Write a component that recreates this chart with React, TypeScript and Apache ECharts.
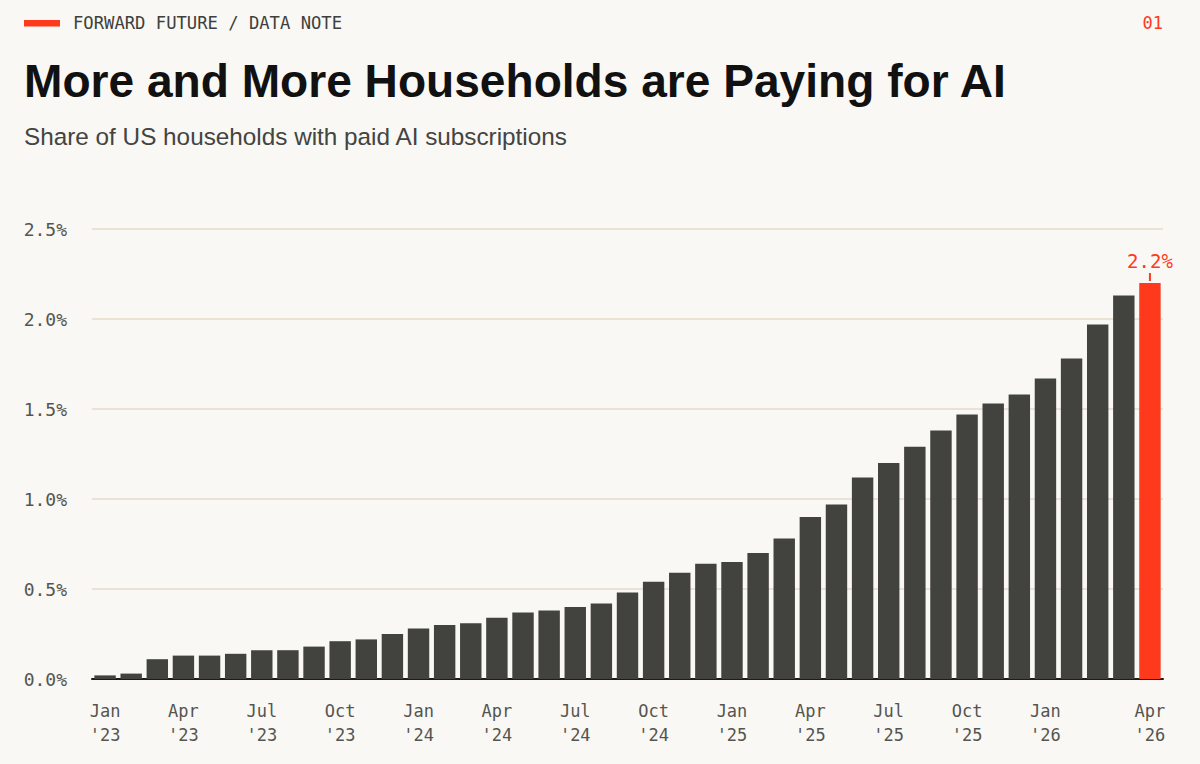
import React, { useEffect, useRef } from "react";
import * as echarts from "echarts";

const tickLabels: string[] = [
  "Jan\n'23", "", "", "Apr\n'23", "", "", "Jul\n'23", "", "", "Oct\n'23", "", "",
  "Jan\n'24", "", "", "Apr\n'24", "", "", "Jul\n'24", "", "", "Oct\n'24", "", "",
  "Jan\n'25", "", "", "Apr\n'25", "", "", "Jul\n'25", "", "", "Oct\n'25", "", "",
  "Jan\n'26", "", "", "", "Apr\n'26",
];

const values: number[] = [
  0.02, 0.03, 0.11, 0.13, 0.13, 0.14, 0.16, 0.16, 0.18, 0.21, 0.22, 0.25,
  0.28, 0.30, 0.31, 0.34, 0.37, 0.38, 0.40, 0.42, 0.48, 0.54, 0.59, 0.64,
  0.65, 0.70, 0.78, 0.90, 0.97, 1.12, 1.20, 1.29, 1.38, 1.47, 1.53, 1.58,
  1.67, 1.78, 1.97, 2.13, 2.20,
];

const yMin = 0;
const yMax = 2.5;
const yStep = 0.5;

const TITLE = "More and More Households are Paying for AI";
const SUBTITLE = "Share of US households with paid AI subscriptions";
const KICKER = "FORWARD FUTURE / DATA NOTE";
const PAGE_NO = "01";

const BG = "#f9f8f5";
const DARK = "#42423e";
const RED = "#ff3a1c";
const MONO = "'DejaVu Sans Mono', 'Liberation Mono', monospace";
const SANS = "'Liberation Sans', Arial, Helvetica, sans-serif";

export default function App() {
  const ref = useRef<HTMLDivElement>(null);

  useEffect(() => {
    if (!ref.current) return;
    const chart = echarts.init(ref.current, undefined, { renderer: "svg" });
    const lastIdx = values.length - 1;
    const seriesData = values.map((v, i) =>
      i === lastIdx
        ? {
            value: v,
            itemStyle: { color: RED },
            label: {
              show: true,
              position: "top",
              distance: 2,
              formatter: (p: any) => `{v|${Number(p.value).toFixed(1)}%}\n{t|}`,
              rich: {
                v: { color: RED, fontFamily: MONO, fontSize: 19, lineHeight: 24, align: "center" },
                t: { width: 2, height: 8, lineHeight: 8, backgroundColor: RED, align: "center" },
              },
            },
          }
        : { value: v }
    );

    chart.setOption({
      animation: false,
      backgroundColor: BG,
      grid: { left: 92, right: 37, top: 229, bottom: 85, containLabel: false },
      xAxis: {
        type: "category",
        data: tickLabels.map((_, i) => String(i)),
        axisTick: { show: false },
        axisLine: { show: true, lineStyle: { color: "#1c1c1a", width: 2 } },
        axisLabel: {
          interval: 0,
          formatter: (_v: string, i: number) => tickLabels[i],
          color: "#555550",
          fontFamily: MONO,
          fontSize: 17,
          lineHeight: 24,
          margin: 20,
        },
      },
      yAxis: {
        type: "value",
        min: yMin,
        max: yMax,
        interval: yStep,
        axisLine: { show: false },
        axisTick: { show: false },
        splitLine: { show: true, lineStyle: { color: "#e4dcc8", width: 1.5 } },
        axisLabel: {
          formatter: (v: number) => `${v.toFixed(1)}%`,
          color: "#555550",
          fontFamily: MONO,
          fontSize: 18,
          margin: 25,
        },
      },
      series: [
        {
          type: "bar",
          data: seriesData,
          barCategoryGap: "18%",
          itemStyle: { color: DARK },
          z: 3,
        },
      ],
      graphic: [
        {
          type: "rect",
          shape: { x: 24, y: 20, width: 36, height: 6.5 },
          style: { fill: RED },
        },
        {
          type: "text",
          x: 73,
          y: 22.5,
          style: {
            text: KICKER,
            fill: "#3f3f3c",
            fontFamily: MONO,
            fontSize: 17.2,
            textAlign: "left",
            textVerticalAlign: "middle",
            align: "left",
            verticalAlign: "middle",
          },
        },
        {
          type: "text",
          x: 1163,
          y: 22.5,
          style: {
            text: PAGE_NO,
            fill: RED,
            fontFamily: MONO,
            fontSize: 17,
            textAlign: "right",
            textVerticalAlign: "middle",
            align: "right",
            verticalAlign: "middle",
          },
        },
        {
          type: "text",
          x: 24,
          y: 80.5,
          style: {
            text: TITLE,
            fill: "#111111",
            fontFamily: SANS,
            fontWeight: "bold",
            fontSize: 46.1,
            textAlign: "left",
            textVerticalAlign: "middle",
            align: "left",
            verticalAlign: "middle",
          },
        },
        {
          type: "text",
          x: 24,
          y: 136,
          style: {
            text: SUBTITLE,
            fill: "#444441",
            fontFamily: SANS,
            fontSize: 24.3,
            textAlign: "left",
            textVerticalAlign: "middle",
            align: "left",
            verticalAlign: "middle",
          },
        },
      ],
    });
    return () => chart.dispose();
  }, []);

  return (
    <div
      style={{
        position: "fixed",
        left: 0,
        top: 0,
        width: 1200,
        height: 764,
        background: BG,
        overflow: "hidden",
      }}
    >
      <div ref={ref} style={{ width: 1200, height: 764 }} />
    </div>
  );
}
